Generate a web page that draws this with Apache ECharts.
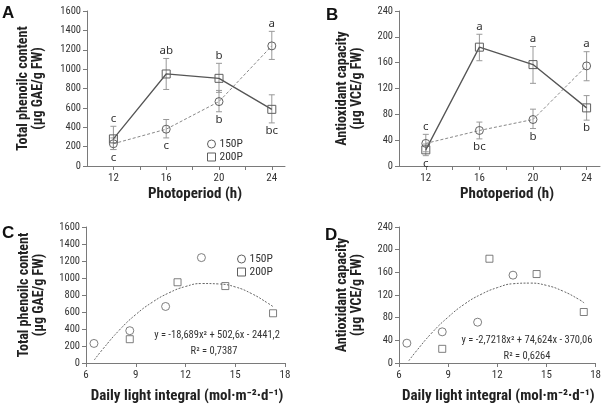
<!DOCTYPE html>
<html><head><meta charset="utf-8">
<script src="https://cdn.jsdelivr.net/npm/echarts@6/dist/echarts.min.js"></script>
<style>html,body{margin:0;padding:0;background:#fff}#c{width:604px;height:409px}</style>
</head><body><div id="c"></div>
<script>
// ---------- data ----------
const photoperiod = [12, 16, 20, 24];
const photoTicks = [12, 14, 16, 18, 20, 22, 24];
const photoLabels = [12, 16, 20, 24];

// Total phenolic content (µg GAE/g FW)
const tpc150 = [230, 380, 665, 1240];
const tpc150Lo = [170, 290, 560, 1100];
const tpc150Hi = [290, 480, 780, 1390];
const tpc150Letters = ['c', 'c', 'b', 'a'];
const tpc200 = [280, 950, 905, 585];
const tpc200Lo = [170, 790, 760, 445];
const tpc200Hi = [410, 1110, 1060, 735];
const tpc200Letters = ['c', 'ab', 'b', 'bc'];

// Antioxidant capacity (µg VCE/g FW)
const aoc150 = [35, 55, 72, 155];
const aoc150Lo = [22, 42, 58, 132];
const aoc150Hi = [49, 68, 88, 177];
const aoc150Letters = ['c', 'bc', 'b', 'a'];
const aoc200 = [25, 184, 157, 90];
const aoc200Lo = [16, 163, 128, 71];
const aoc200Hi = [34, 204, 185, 109];
const aoc200Letters = ['c', 'a', 'a', 'b'];

// Daily light integral (mol m-2 d-1)
const dli150 = [6.48, 8.64, 10.8, 12.96];
const dli200 = [8.64, 11.52, 14.4, 17.28];

// Fitted curves
const tpcFitX = [6.5, 7, 8, 9, 10, 11, 12, 13, 14, 15, 16, 17, 17.3];
const tpcFitY = [36, 160, 385, 570, 715, 825, 900, 935, 930, 895, 815, 700, 660];
const aocFitX = [6.6, 7, 8, 9, 10, 11, 12, 13, 14, 15, 16, 17, 17.3];
const aocFitY = [4, 19, 53, 81, 104, 121, 133, 140, 141, 137, 127, 112, 106];

const tpcEq = 'y = -18,689x² + 502,6x - 2441,2';
const tpcR2 = 'R² = 0,7387';
const aocEq = 'y = -2,7218x² + 74,624x - 370,06';
const aocR2 = 'R² = 0,6264';

// ---------- styles ----------
const FONT = '"Roboto Condensed", "Noto Sans", sans-serif';
const AXC = '#7a7a7a';
const TXC = '#333';
const MK = '#5f5f5f';

const pairs = (xs, ys) => xs.map((x, i) => [x, ys[i]]);

function xAxisPhoto(gi, nameShift) {
  return {
    type: 'value', gridIndex: gi, min: 10, max: 25,
    axisLine: { show: true, lineStyle: { color: AXC } },
    axisTick: { show: true, length: 4, customValues: photoTicks, lineStyle: { color: AXC } },
    axisLabel: { customValues: photoLabels, color: TXC, fontFamily: FONT, fontSize: 11, margin: 7 },
    splitLine: { show: false },
    name: 'Photoperiod (h)', nameLocation: 'middle', nameGap: 21,
    nameTextStyle: { fontFamily: FONT, fontWeight: 'bold', fontSize: 15, color: '#222', padding: [0, 0, 0, nameShift] }
  };
}
function xAxisDli(gi, nameShift) {
  return {
    type: 'value', gridIndex: gi, min: 6, max: 18, interval: 3,
    axisLine: { show: true, lineStyle: { color: AXC } },
    axisTick: { show: true, length: 4, lineStyle: { color: AXC } },
    axisLabel: { color: TXC, fontFamily: FONT, fontSize: 11, margin: 7, showMaxLabel: true },
    splitLine: { show: false },
    name: 'Daily light integral (mol·m⁻²·d⁻¹)', nameLocation: 'middle', nameGap: 26,
    nameTextStyle: { fontFamily: FONT, fontWeight: 'bold', fontSize: 15, color: '#222', padding: [0, 0, 0, nameShift] }
  };
}
function yAxisOf(gi, max, interval, name, gap) {
  return {
    type: 'value', gridIndex: gi, min: 0, max: max, interval: interval,
    axisLine: { show: true, lineStyle: { color: AXC } },
    axisTick: { show: true, length: 4, lineStyle: { color: AXC } },
    axisLabel: { color: TXC, fontFamily: FONT, fontSize: 10.5, margin: 6, formatter: v => String(v) },
    splitLine: { show: false },
    name: name, nameLocation: 'middle', nameGap: gap, nameRotate: 90,
    nameTextStyle: { fontFamily: FONT, fontWeight: 'bold', fontSize: 14, lineHeight: 15, color: '#222', align: 'center' }
  };
}

function errSeries(gi, xs, lo, hi, vals, other, letters) {
  return {
    type: 'custom', xAxisIndex: gi, yAxisIndex: gi, z: 1, clip: false, silent: true,
    data: xs.map((x, i) => [x, lo[i], hi[i], vals[i] >= other[i] ? 1 : -1]),
    renderItem: function (params, api) {
      const x = api.value(0), l = api.value(1), h = api.value(2), side = api.value(3);
      const pL = api.coord([x, l]), pH = api.coord([x, h]);
      const cw = 3;
      const ls = { stroke: '#999', lineWidth: 1 };
      const ty = side > 0 ? pH[1] - 8 : pL[1] + 8;
      return {
        type: 'group', children: [
          { type: 'line', shape: { x1: pL[0], y1: pL[1], x2: pH[0], y2: pH[1] }, style: ls },
          { type: 'line', shape: { x1: pL[0] - cw, y1: pL[1], x2: pL[0] + cw, y2: pL[1] }, style: ls },
          { type: 'line', shape: { x1: pH[0] - cw, y1: pH[1], x2: pH[0] + cw, y2: pH[1] }, style: ls },
          { type: 'text', style: { text: letters[params.dataIndex], x: pL[0], y: ty, textAlign: 'center', textVerticalAlign: 'middle', fill: TXC, font: '11.5px "Noto Sans", sans-serif' } }
        ]
      };
    }
  };
}
function lineSeries(gi, name, xs, ys, symbol, dashed) {
  return {
    type: 'line', name: name, xAxisIndex: gi, yAxisIndex: gi, z: 3,
    data: pairs(xs, ys), symbol: symbol, symbolSize: 8, showSymbol: true,
    itemStyle: { color: 'rgba(255,255,255,0)', borderColor: MK, borderWidth: 1 },
    lineStyle: dashed ? { color: '#888', width: 1, type: [3, 2] } : { color: '#555', width: 1.3 }
  };
}
function scatterSeries(gi, name, xs, ys, symbol) {
  return {
    type: 'scatter', name: name, xAxisIndex: gi, yAxisIndex: gi, z: 3,
    data: pairs(xs, ys), symbol: symbol, symbolSize: symbol === 'rect' ? 7 : 8,
    itemStyle: { color: 'rgba(255,255,255,0)', borderColor: MK, borderWidth: 1 }
  };
}
function fitSeries(gi, xs, ys) {
  return {
    type: 'line', xAxisIndex: gi, yAxisIndex: gi, z: 2, smooth: true, symbol: 'none',
    data: pairs(xs, ys), lineStyle: { color: '#666', width: 1, type: [2, 1.5] }, silent: true
  };
}
function legendAt(left, top) {
  return {
    left: left, top: top, orient: 'vertical', itemGap: 1, itemWidth: 8, itemHeight: 8, padding: 0,
    selectedMode: false,
    textStyle: { fontFamily: FONT, fontSize: 11.5, lineHeight: 10, color: TXC, padding: [0, 0, 0, -1] },
    data: [
      { name: '150P', icon: 'circle', itemStyle: { color: '#fff', borderColor: MK, borderWidth: 1 } },
      { name: '200P', icon: 'rect', itemStyle: { color: '#fff', borderColor: MK, borderWidth: 1 } }
    ]
  };
}
function txt(x, y, s, font, align) {
  return { type: 'text', x: x, y: y, style: { text: s, font: font, fill: '#111', textAlign: align || 'left', textVerticalAlign: 'top' } };
}
function eqText(x, y, s) {
  return { type: 'text', x: x, y: y, style: { text: s, font: '10.5px ' + FONT, fill: TXC, textAlign: 'center', textVerticalAlign: 'middle' } };
}

const chart = echarts.init(document.getElementById('c'), null, { renderer: 'canvas' });
chart.setOption({
  animation: false,
  backgroundColor: '#fff',
  grid: [
    { left: 87, top: 11, width: 198, height: 155 },
    { left: 399, top: 11, width: 201, height: 155 },
    { left: 86, top: 227, width: 199, height: 136 },
    { left: 399, top: 227, width: 203, height: 136 }
  ],
  xAxis: [xAxisPhoto(0, 18), xAxisPhoto(1, 15), xAxisDli(2, 3), xAxisDli(3, 2)],
  yAxis: [
    yAxisOf(0, 1600, 200, 'Total phenoilc content\n(µg GAE/g FW)', 41),
    yAxisOf(1, 240, 40, 'Antioxidant capacity\n(µg VCE/g FW)', 34),
    yAxisOf(2, 1600, 200, 'Total phenoilc content\n(µg GAE/g FW)', 39),
    yAxisOf(3, 240, 40, 'Antioxidant capacity\n(µg VCE/g FW)', 34)
  ],
  legend: [legendAt(207, 138), legendAt(237, 253)],
  series: [
    errSeries(0, photoperiod, tpc150Lo, tpc150Hi, tpc150, tpc200, tpc150Letters),
    errSeries(0, photoperiod, tpc200Lo, tpc200Hi, tpc200, tpc150, tpc200Letters),
    lineSeries(0, '150P', photoperiod, tpc150, 'circle', true),
    lineSeries(0, '200P', photoperiod, tpc200, 'rect', false),

    errSeries(1, photoperiod, aoc150Lo, aoc150Hi, aoc150, aoc200, aoc150Letters),
    errSeries(1, photoperiod, aoc200Lo, aoc200Hi, aoc200, aoc150, aoc200Letters),
    lineSeries(1, '150P', photoperiod, aoc150, 'circle', true),
    lineSeries(1, '200P', photoperiod, aoc200, 'rect', false),

    fitSeries(2, tpcFitX, tpcFitY),
    scatterSeries(2, '150P', dli150, tpc150, 'circle'),
    scatterSeries(2, '200P', dli200, tpc200, 'rect'),

    fitSeries(3, aocFitX, aocFitY),
    scatterSeries(3, '150P', dli150, aoc150, 'circle'),
    scatterSeries(3, '200P', dli200, aoc200, 'rect')
  ],
  graphic: [
    txt(2, 5, 'A', 'bold 17px "Liberation Sans", sans-serif'),
    txt(326, 7, 'B', 'bold 17px "Liberation Sans", sans-serif'),
    txt(2, 225, 'C', 'bold 17px "Liberation Sans", sans-serif'),
    txt(325, 227, 'D', 'bold 17px "Liberation Sans", sans-serif'),
    eqText(217, 335, tpcEq),
    eqText(214, 351.5, tpcR2),
    eqText(527, 340.5, aocEq),
    eqText(527, 356, aocR2)
  ]
});
</script></body></html>
